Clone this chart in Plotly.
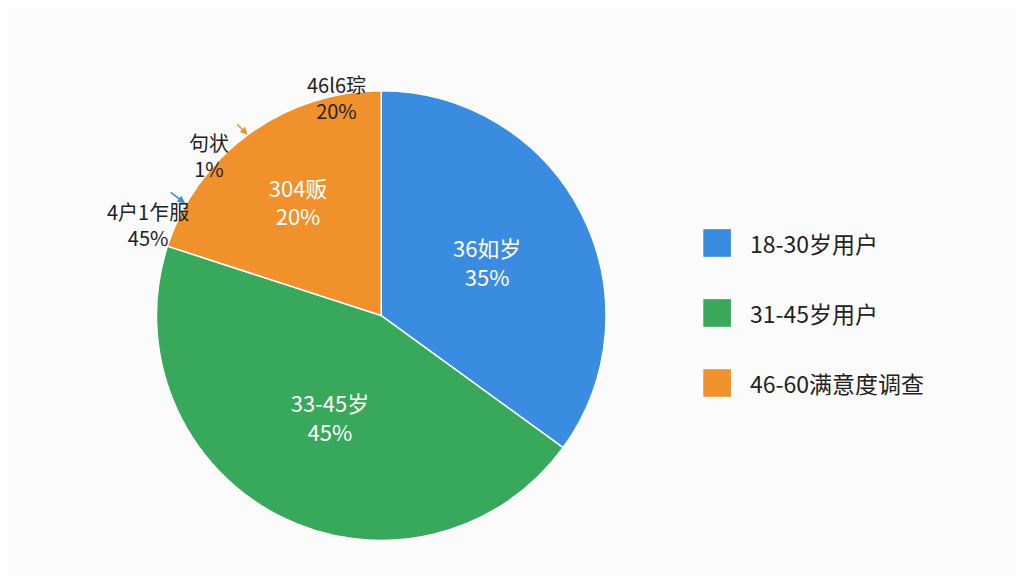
import plotly.graph_objects as go

# data
categories = ["18-30岁用户", "31-45岁用户", "46-60满意度调查"]
values = [35, 45, 20]
inner_text = ["36如岁<br>35%", "33-45岁<br>45%", "304贩<br>20%"]
colors = ["#3a8ce0", "#38a85a", "#f0912c"]

# outside callouts as drawn in the source
callout_text = ["46l6琮<br>20%", "句状<br>1%", "4户1乍服<br>45%"]

fig = go.Figure(go.Pie(
    labels=categories,
    values=values,
    text=inner_text,
    textinfo="text",
    textposition="inside",
    insidetextfont=dict(color="white", size=22),
    marker=dict(colors=colors, line=dict(color="white", width=1.5)),
    sort=False,
    direction="clockwise",
    rotation=0,
    showlegend=False,
    domain=dict(x=[0.145, 0.584], y=[0.075, 0.857]),
))

# outside callouts
fig.add_annotation(x=0.29, y=0.895, xref="paper", yref="paper", text=callout_text[0],
                   showarrow=False, font=dict(size=20, color="#222"))
fig.add_annotation(x=0.175, y=0.795, xref="paper", yref="paper", text=callout_text[1],
                   showarrow=False, font=dict(size=20, color="#222"))
fig.add_annotation(x=0.234, y=0.78, ax=-12, ay=-12, xref="paper", yref="paper",
                   text="", showarrow=True,
                   arrowhead=2, arrowcolor=colors[2], arrowwidth=1.5)
fig.add_annotation(x=0.095, y=0.675, xref="paper", yref="paper", text=callout_text[2],
                   showarrow=False, font=dict(size=20, color="#222"))
fig.add_annotation(x=0.173, y=0.661, ax=-16, ay=-12, xref="paper", yref="paper",
                   text="", showarrow=True,
                   arrowhead=2, arrowcolor=colors[0], arrowwidth=1.5)

# legend drawn manually for its wide spacing
for i, (name, col) in enumerate(zip(categories, colors)):
    yc = 0.592 - i * 0.1215
    fig.add_shape(type="rect", xref="paper", yref="paper",
                  x0=0.679, x1=0.706, y0=yc - 0.024, y1=yc + 0.024,
                  fillcolor=col, line=dict(width=0))
    fig.add_annotation(x=0.723, y=yc, xref="paper", yref="paper", text=name,
                       xanchor="left", showarrow=False,
                       font=dict(size=23, color="#222"))

fig.update_layout(
    width=1024, height=576,
    margin=dict(l=0, r=0, t=0, b=0),
    paper_bgcolor="#fbfbfb",
    font=dict(family="Noto Sans CJK SC"),
)
fig.write_html("out.html")
